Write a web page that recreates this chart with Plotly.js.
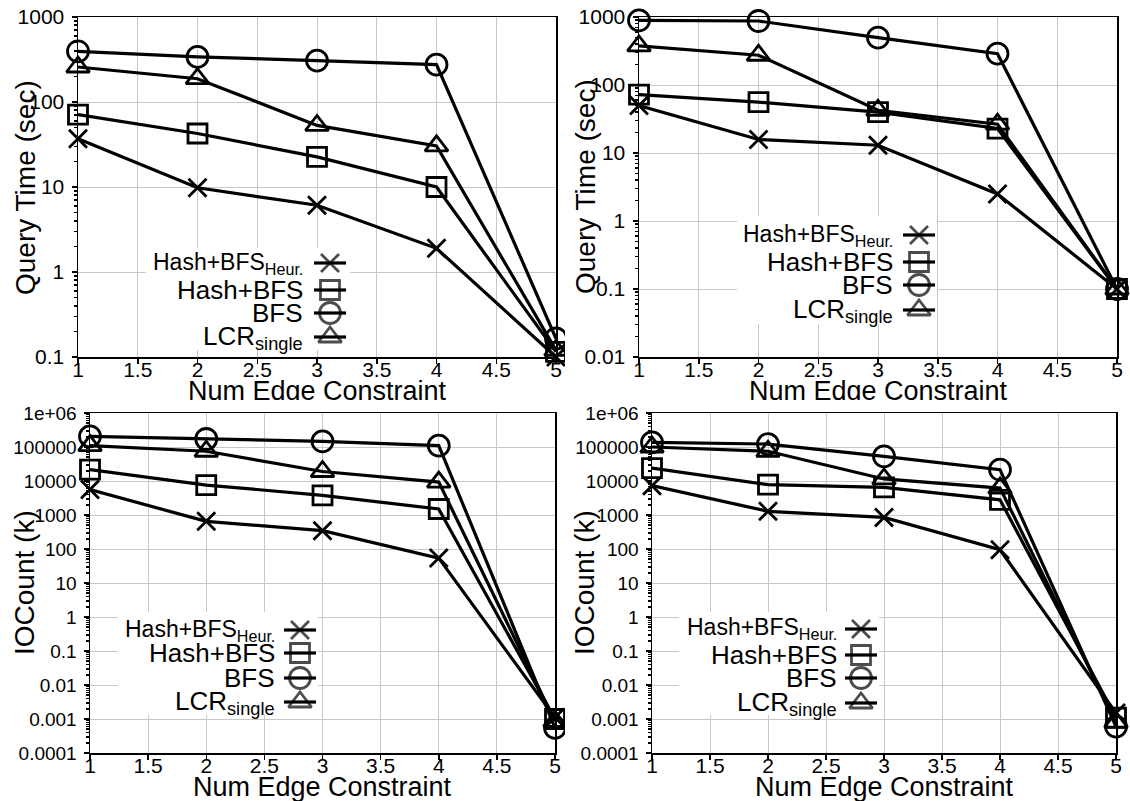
<!DOCTYPE html>
<html><head><meta charset="utf-8">
<script src="https://cdn.plot.ly/plotly-3.0.1.min.js"></script>
<style>
html,body{margin:0;padding:0;background:#fff;width:1130px;height:801px;overflow:hidden;position:relative;}
.p{position:absolute;overflow:hidden;}
</style></head><body>
<div id="tl" class="p" style="left:0px;top:0px;width:565px;height:400px"></div>
<div id="tr" class="p" style="left:561px;top:0px;width:569px;height:400px"></div>
<div id="bl" class="p" style="left:0px;top:400px;width:565px;height:401px"></div>
<div id="br" class="p" style="left:561px;top:400px;width:569px;height:401px"></div>
<script>
// ---------- data ----------
const edgeConstraints = [1, 2, 3, 4, 5];
const seriesNames = ['Hash+BFS<sub>Heur.</sub>', 'Hash+BFS', 'BFS', 'LCR<sub>single</sub>'];

// Query time (sec), left dataset
const timeL_heur = [37, 9.8, 6.1, 1.9, 0.10];
const timeL_hash = [71, 42.6, 22.6, 10, 0.115];
const timeL_bfs  = [395, 339, 307, 275, 0.165];
const timeL_lcr  = [258, 188, 53, 30.5, 0.12];
// Query time (sec), right dataset
const timeR_heur = [50, 15.8, 13, 2.5, 0.1];
const timeR_hash = [72, 56, 40, 22.9, 0.1];
const timeR_bfs  = [893, 873, 497, 289, 0.1];
const timeR_lcr  = [375, 274, 42.5, 26.5, 0.1];
// IOCount (k), left dataset
const ioL_heur = [5600, 650, 346, 54, 0.0011];
const ioL_hash = [21500, 7600, 3800, 1500, 0.001];
const ioL_bfs  = [206000, 172000, 147000, 110000, 0.00055];
const ioL_lcr  = [110000, 75000, 19000, 9300, 0.00085];
// IOCount (k), right dataset
const ioR_heur = [7300, 1280, 850, 95, 0.0015];
const ioR_hash = [24000, 7800, 6500, 2800, 0.0011];
const ioR_bfs  = [137000, 122000, 53000, 21500, 0.0006];
const ioR_lcr  = [100000, 75000, 11500, 6200, 0.0008];

const xTickVals = [1, 1.5, 2, 2.5, 3, 3.5, 4, 4.5, 5];
const xTickText = ['1', '1.5', '2', '2.5', '3', '3.5', '4', '4.5', '5'];
const timeTickValsL = [0.1, 1, 10, 100, 1000];
const timeTickTextL = ['0.1', '1', '10', '100', '1000'];
const timeTickValsR = [0.01, 0.1, 1, 10, 100, 1000];
const timeTickTextR = ['0.01', '0.1', '1', '10', '100', '1000'];
const ioTickVals = [1e-4, 1e-3, 1e-2, 1e-1, 1, 10, 100, 1000, 1e4, 1e5, 1e6];
const ioTickText = ['0.0001', '0.001', '0.01', '0.1', '1', '10', '100', '1000', '10000', '100000', '1e+06'];

const xTitle = 'Num Edge Constraint';
const timeTitle = 'Query Time (sec)';
const ioTitle = 'IOCount (k)';

// ---------- styling ----------
const FONT = 'Liberation Sans, Arial, Helvetica, sans-serif';
const SYMBOLS = ['x-thin-open', 'square-open', 'circle-open', 'triangle-up-open'];
const SIZES = [18, 19, 21, 20];
const NAME_SIZES = [23, 26, 26, 26];

function panel(cfg) {
  const W = cfg.w, H = cfg.h, ox = cfg.ox, oy = cfg.oy;
  const [x0, x1, y0, y1] = cfg.plot;
  const px = v => (v - ox) / W;
  const py = v => 1 - (v - oy) / H;
  const b = cfg.legend.box;
  const traces = [];
  // opaque legend box (pixel-space overlay, drawn before the glyphs)
  traces.push({type: 'scatter', mode: 'lines', x: [b[0], b[1], b[1], b[0], b[0]], y: [b[2], b[2], b[3], b[3], b[2]],
    xaxis: 'x2', yaxis: 'y2', fill: 'toself', fillcolor: 'white', line: {width: 0, color: 'rgba(0,0,0,0)'},
    showlegend: false, hoverinfo: 'skip', cliponaxis: false});
  cfg.values.forEach((vals, i) => traces.push({
    type: 'scatter', mode: 'lines+markers', x: edgeConstraints, y: vals,
    name: seriesNames[i], cliponaxis: false, showlegend: false, hoverinfo: 'skip',
    line: {color: 'black', width: 3.2},
    marker: {symbol: SYMBOLS[i], size: SIZES[i], color: 'black', line: {color: 'black', width: 2.8}}
  }));
  // legend glyphs (pixel-space overlay)
  const lx = [], ly = [];
  cfg.legend.rows.forEach(r => { lx.push(cfg.legend.gx - 16, cfg.legend.gx + 16, null); ly.push(r, r, null); });
  traces.push({type: 'scatter', mode: 'lines', x: lx, y: ly, xaxis: 'x2', yaxis: 'y2', cliponaxis: false,
    showlegend: false, hoverinfo: 'skip', line: {color: 'black', width: 3.2}});
  traces.push({type: 'scatter', mode: 'markers', x: cfg.legend.rows.map(() => cfg.legend.gx), y: cfg.legend.rows,
    xaxis: 'x2', yaxis: 'y2', cliponaxis: false, showlegend: false, hoverinfo: 'skip',
    marker: {symbol: SYMBOLS, size: SIZES, color: 'black', line: {color: 'black', width: 2.8}}});

  const annotations = cfg.legend.rows.map((r, i) => ({
    xref: 'paper', yref: 'paper', x: px(cfg.legend.tx), y: py(r), xanchor: 'right', yanchor: 'middle',
    text: seriesNames[i], showarrow: false, font: {family: FONT, size: NAME_SIZES[i], color: 'black'}
  }));
  annotations.push({xref: 'paper', yref: 'paper', x: px(cfg.ytitle[0]), y: py(cfg.ytitle[1]), textangle: -90,
    xanchor: 'center', yanchor: 'middle', text: cfg.ytext, showarrow: false,
    font: {family: FONT, size: 28, color: 'black'}});
  annotations.push({xref: 'paper', yref: 'paper', x: px(cfg.xtitle[0]), y: py(cfg.xtitle[1]),
    xanchor: 'center', yanchor: 'top', text: xTitle, showarrow: false,
    font: {family: FONT, size: 27, color: 'black'}});

  const axisCommon = {
    showline: true, linecolor: 'black', linewidth: 1.5, mirror: true,
    ticks: 'outside', ticklen: 5, tickwidth: 1.5, tickcolor: 'black',
    showgrid: true, gridcolor: '#c8c8c8', gridwidth: 1, zeroline: false,
    fixedrange: true
  };
  const layout = {
    width: W, height: H, margin: {l: 0, r: 0, t: 0, b: 0},
    paper_bgcolor: 'rgba(0,0,0,0)', plot_bgcolor: 'rgba(0,0,0,0)',
    showlegend: false, font: {family: FONT, color: 'black'},
    xaxis: Object.assign({}, axisCommon, {
      domain: [px(x0), px(x1)], range: [1, 5], tickmode: 'array', tickvals: xTickVals, ticktext: xTickText,
      tickfont: {family: FONT, size: 21, color: 'black'}, ticklabelstandoff: -12
    }),
    yaxis: Object.assign({}, axisCommon, {
      domain: [py(y1), py(y0)], type: 'log', range: cfg.yrange, tickmode: 'array',
      tickvals: cfg.ytickvals, ticktext: cfg.yticktext,
      tickfont: {family: FONT, size: cfg.yfont, color: 'black'}, ticklabelstandoff: 3,
      minor: {dtick: 'D1', ticks: 'outside', ticklen: 3, tickcolor: 'black', showgrid: false}
    }),
    xaxis2: {domain: [0, 1], range: [ox, ox + W], visible: false, fixedrange: true, anchor: 'y2'},
    yaxis2: {domain: [0, 1], range: [oy + H, oy], visible: false, fixedrange: true, anchor: 'x2'},
    annotations: annotations
  };
  Plotly.newPlot(cfg.id, traces, layout, {staticPlot: true, displayModeBar: false});
}

panel({id: 'tl', w: 565, h: 400, ox: 0, oy: 0, plot: [78, 556, 17, 357],
  values: [timeL_heur, timeL_hash, timeL_bfs, timeL_lcr],
  yrange: [-1, 3], ytickvals: timeTickValsL, yticktext: timeTickTextL, yfont: 21,
  ytext: timeTitle, ytitle: [25, 188], xtitle: [317, 374],
  legend: {gx: 330, tx: 305, rows: [263, 290, 313, 337], box: [146, 350, 248, 350]}});

panel({id: 'tr', w: 569, h: 400, ox: 561, oy: 0, plot: [639, 1117, 17, 357],
  values: [timeR_heur, timeR_hash, timeR_bfs, timeR_lcr],
  yrange: [-2, 3], ytickvals: timeTickValsR, yticktext: timeTickTextR, yfont: 21,
  ytext: timeTitle, ytitle: [585, 187], xtitle: [878, 374],
  legend: {gx: 919, tx: 895, rows: [235, 262, 285, 310], box: [737, 937, 216, 324]}});

panel({id: 'bl', w: 565, h: 401, ox: 0, oy: 400, plot: [90, 555, 413, 753],
  values: [ioL_heur, ioL_hash, ioL_bfs, ioL_lcr],
  yrange: [-4, 6], ytickvals: ioTickVals, yticktext: ioTickText, yfont: 19,
  ytext: ioTitle, ytitle: [24, 583], xtitle: [322, 770],
  legend: {gx: 300, tx: 277, rows: [630, 653, 678, 702], box: [118, 318, 612, 715]}});

panel({id: 'br', w: 569, h: 401, ox: 561, oy: 400, plot: [652, 1116, 413, 753],
  values: [ioR_heur, ioR_hash, ioR_bfs, ioR_lcr],
  yrange: [-4, 6], ytickvals: ioTickVals, yticktext: ioTickText, yfont: 19,
  ytext: ioTitle, ytitle: [584, 583], xtitle: [884, 770],
  legend: {gx: 861, tx: 839, rows: [629, 655, 678, 703], box: [679, 879, 612, 715]}});
</script>
</body></html>
